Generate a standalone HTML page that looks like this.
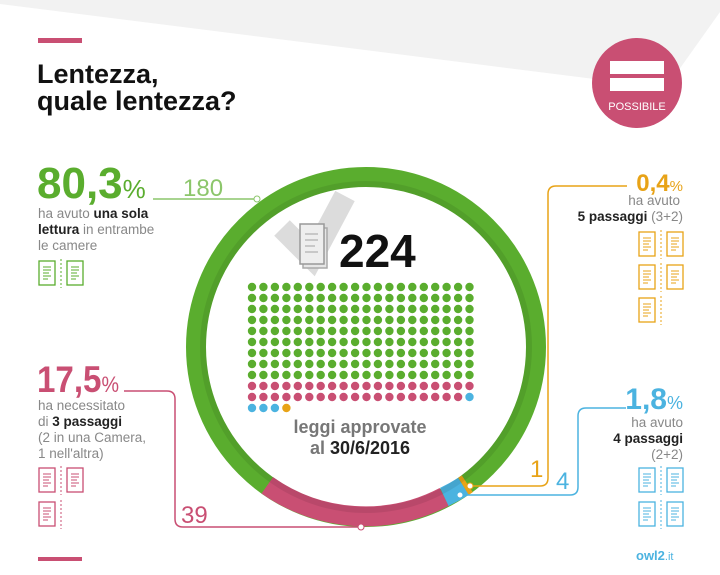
<!DOCTYPE html>
<html><head><meta charset="utf-8"><style>
html,body{margin:0;padding:0;background:#fff;width:720px;height:575px;overflow:hidden}
text{font-family:"Liberation Sans",sans-serif}
</style></head><body>
<svg width="720" height="575" viewBox="0 0 720 575" xmlns="http://www.w3.org/2000/svg">
<defs>
<g id="doc"><rect x="0" y="0" width="16" height="24" fill="none" stroke-width="1.3"/><line x1="4" y1="6" x2="12" y2="6" stroke-width="1"/><line x1="4" y1="9" x2="12" y2="9" stroke-width="1"/><line x1="4" y1="12" x2="10" y2="12" stroke-width="1"/><line x1="4" y1="15" x2="12" y2="15" stroke-width="1"/><line x1="4" y1="18" x2="9" y2="18" stroke-width="1"/></g>
<g id="pair"><use href="#doc" x="0" y="0"/><line x1="22" y1="-2" x2="22" y2="27" stroke-width="1" stroke-dasharray="2,2"/><use href="#doc" x="28" y="0"/></g>
</defs>
<polygon points="0,0 720,0 720,12 666,88 0,4" fill="#f2f2f2"/>
<rect x="38" y="38" width="44" height="5" fill="#c94f73"/>
<text x="37" y="83" font-size="27" font-weight="bold" fill="#111">Lentezza,</text>
<text x="37" y="110" font-size="27" font-weight="bold" fill="#111">quale lentezza?</text>
<circle cx="637" cy="83" r="45" fill="#c94f73"/>
<rect x="610" y="61" width="54" height="13" fill="#fff"/><rect x="610" y="78" width="54" height="13" fill="#fff"/>
<text x="637" y="110" font-size="11" fill="#fff" text-anchor="middle">POSSIBILE</text>

<!-- ring -->
<g fill="none" stroke-width="20">
<circle cx="366" cy="347" r="170" stroke="#5aad2e"/>
<path d="M 444.3 496.9 A 170 170 0 0 1 267.3 485.3" stroke="#c94f73"/>
<path d="M 463.5 486.3 A 170 170 0 0 1 444.3 496.9" stroke="#4bb3e0"/>
<path d="M 467.3 483.9 A 170 170 0 0 1 463.5 486.3" stroke="#e8a317"/>
<circle cx="366" cy="347" r="163" stroke="#000" stroke-opacity="0.08" stroke-width="6"/>
</g>
<!-- check & doc -->
<polyline points="282,228 312,258 345,196" fill="none" stroke="#dcdcdc" stroke-width="22" stroke-linejoin="miter"/>
<rect x="303" y="228" width="24" height="40" fill="#e6e6e6" stroke="#aaa" stroke-width="1.5"/>
<rect x="300" y="224" width="24" height="40" fill="#eee" stroke="#999" stroke-width="1.5"/>
<g stroke="#bbb" stroke-width="1.5"><line x1="305" y1="234" x2="318" y2="234"/><line x1="305" y1="240" x2="318" y2="240"/><line x1="305" y1="246" x2="315" y2="246"/><line x1="305" y1="252" x2="318" y2="252"/></g>
<text x="339" y="267" font-size="46" font-weight="bold" fill="#111">224</text>
<g id="dots"></g>
<text x="360" y="433" font-size="18" font-weight="bold" fill="#777" text-anchor="middle">leggi approvate</text>
<text x="360" y="454" font-size="18" font-weight="bold" fill="#777" text-anchor="middle">al <tspan fill="#222">30/6/2016</tspan></text>

<!-- left top -->
<text x="37" y="198" font-size="44" font-weight="bold" fill="#5aad2e">80,3<tspan font-size="26" font-weight="normal">%</tspan></text>
<text x="183" y="196" font-size="24" fill="#8cc66b">180</text>
<line x1="153" y1="199" x2="257" y2="199" stroke="#8cc66b" stroke-width="1.5"/>
<circle cx="257" cy="199" r="3" fill="#fff" stroke="#8cc66b"/>
<g font-size="13.5" fill="#888"><text x="38" y="218">ha avuto <tspan fill="#222" font-weight="bold">una sola</tspan></text>
<text x="38" y="234"><tspan fill="#222" font-weight="bold">lettura</tspan> in entrambe</text>
<text x="38" y="250">le camere</text></g>
<use href="#pair" x="39" y="261" stroke="#5aad2e"/>

<!-- right top -->
<text x="683" y="191" font-size="24" font-weight="bold" fill="#e8a317" text-anchor="end">0,4<tspan font-size="15" font-weight="normal">%</tspan></text>
<path d="M627 186 H556 Q548 186 548 194 V478 Q548 486 540 486 H470" fill="none" stroke="#e8a317" stroke-width="1.5"/>
<circle cx="470" cy="486" r="3" fill="#fff" stroke="#e8a317"/>
<text x="530" y="477" font-size="24" fill="#e8a317">1</text>
<g font-size="13.5" fill="#888" text-anchor="end"><text x="680" y="205">ha avuto</text>
<text x="683" y="221"><tspan fill="#222" font-weight="bold">5 passaggi</tspan> (3+2)</text></g>
<use href="#pair" x="639" y="232" stroke="#e8a317"/>
<use href="#pair" x="639" y="265" stroke="#e8a317"/>
<use href="#doc" x="639" y="298" stroke="#e8a317"/><line x1="661" y1="296" x2="661" y2="325" stroke="#e8a317" stroke-dasharray="2,2"/>

<!-- left bottom -->
<text x="37" y="392" font-size="37" font-weight="bold" fill="#c94f73" textLength="82" lengthAdjust="spacingAndGlyphs">17,5<tspan font-size="22" font-weight="normal">%</tspan></text>
<path d="M124 391 H167 Q175 391 175 399 V519 Q175 527 183 527 H360" fill="none" stroke="#c94f73" stroke-width="1.5"/>
<circle cx="361" cy="527" r="3" fill="#fff" stroke="#c94f73"/>
<text x="181" y="523" font-size="24" fill="#c94f73">39</text>
<g font-size="13.5" fill="#888"><text x="38" y="410">ha necessitato</text>
<text x="38" y="426">di <tspan fill="#222" font-weight="bold">3 passaggi</tspan></text>
<text x="38" y="442">(2 in una Camera,</text>
<text x="38" y="458">1 nell'altra)</text></g>
<use href="#pair" x="39" y="468" stroke="#c94f73"/>
<use href="#doc" x="39" y="502" stroke="#c94f73"/><line x1="61" y1="500" x2="61" y2="529" stroke="#c94f73" stroke-dasharray="2,2"/>

<!-- right bottom -->
<text x="683" y="409" font-size="30" font-weight="bold" fill="#4bb3e0" text-anchor="end">1,8<tspan font-size="18" font-weight="normal">%</tspan></text>
<path d="M626 408 H586 Q578 408 578 416 V487 Q578 495 570 495 H460" fill="none" stroke="#4bb3e0" stroke-width="1.5"/>
<circle cx="460" cy="495" r="3" fill="#fff" stroke="#4bb3e0"/>
<text x="556" y="489" font-size="24" fill="#4bb3e0">4</text>
<g font-size="13.5" fill="#888" text-anchor="end"><text x="683" y="427">ha avuto</text>
<text x="683" y="443" fill="#222" font-weight="bold">4 passaggi</text>
<text x="683" y="459">(2+2)</text></g>
<use href="#pair" x="639" y="468" stroke="#4bb3e0"/>
<use href="#pair" x="639" y="502" stroke="#4bb3e0"/>

<rect x="38" y="557" width="44" height="4" fill="#c94f73"/>
<text x="636" y="560" font-size="13" font-weight="bold" fill="#4bb3e0">owl2<tspan font-weight="normal" font-size="11">.it</tspan></text>
</svg>
<script>
var g=document.getElementById('dots'),s='';
for(var i=0;i<224;i++){var r=Math.floor(i/20),c=i%20,col;
if(i<180)col='#5aad2e';else if(i<219)col='#c94f73';else if(i<223)col='#4bb3e0';else col='#e8a317';
s+='<circle cx="'+(252+c*11.45).toFixed(1)+'" cy="'+(287+r*11)+'" r="4.2" fill="'+col+'"/>';}
g.innerHTML=s;
</script>
</body></html>
